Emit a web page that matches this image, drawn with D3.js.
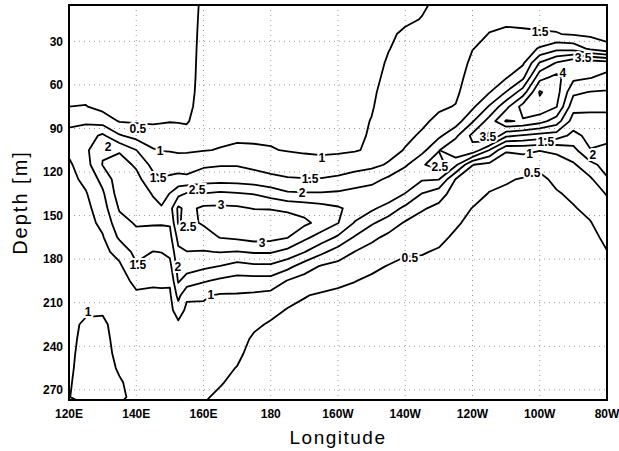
<!DOCTYPE html>
<html>
<head>
<meta charset="utf-8">
<script src="https://cdn.jsdelivr.net/npm/d3@7"></script>
<style>
  body { margin: 0; background: #fff; }
  text { font-family: "Liberation Sans", Arial, sans-serif; }
</style>
</head>
<body>
<svg id="chart" width="619" height="451"></svg>
<script>
// grid longitudes (deg E) and depths (m) of the field
const lons = [120, 125, 130, 135, 140, 145, 147.5, 150, 152.5, 155, 160, 165, 170, 175, 180,
  185, 190, 195, 200, 205, 210, 215, 220, 225, 230, 235, 240, 245, 250, 255, 260, 265, 270, 275, 280];
const depths = [5, 15, 25, 35, 45, 55, 65, 75, 85, 95, 105, 115, 125, 135, 145, 155, 165, 175,
  185, 195, 205, 215, 225, 235, 245, 255, 265, 275];

const levels = [0.5, 1, 1.5, 2, 2.5, 3, 3.5, 4, 4.5];

const xTicks = [120, 140, 160, 180, 200, 220, 240, 260, 280];
const xTickLabels = ["120E", "140E", "160E", "180", "160W", "140W", "120W", "100W", "80W"];
const yTicks = [30, 60, 90, 120, 150, 180, 210, 240, 270];

// one depth profile per longitude, top to bottom
const profiles = [
  [0.3,0.3,0.3,0.3,0.3,0.3,0.32,0.5,0.84,1.2,1.1,0.92,0.85,0.85,0.85,0.85,0.85,0.85,0.85,0.85,0.85,0.86,0.87,0.88,0.9,0.92,0.95,0.98],
  [0.3,0.3,0.3,0.3,0.3,0.3,0.35,0.52,0.93,1.25,1.4,1.3,1.12,0.96,0.86,0.82,0.8,0.8,0.8,0.8,0.8,0.92,1.08,1.13,1.17,1.2,1.23,1.25],
  [0.3,0.3,0.3,0.3,0.3,0.3,0.33,0.35,0.78,1.6,1.95,2.02,1.65,1.42,1.28,1.12,0.96,0.88,0.86,0.86,0.86,0.95,1.08,1.13,1.16,1.18,1.2,1.2],
  [0.3,0.3,0.3,0.3,0.3,0.3,0.3,0.35,0.47,1.05,1.95,2.2,2.3,2.25,2.05,1.82,1.58,1.15,0.92,0.82,0.82,0.82,0.82,0.84,0.88,0.95,1.04,1.1],
  [0.3,0.3,0.3,0.3,0.3,0.3,0.3,0.35,0.45,0.82,1.51,1.93,2.15,2.25,2.2,2.05,1.86,1.66,1.43,1.11,0.93,0.86,0.86,0.86,0.86,0.86,0.86,0.86],
  [0.3,0.3,0.3,0.3,0.3,0.3,0.3,0.33,0.44,0.72,1.04,1.35,1.66,1.97,2.12,2.05,1.78,1.49,1.28,1.08,0.9,0.86,0.86,0.86,0.86,0.86,0.86,0.86],
  [0.3,0.3,0.3,0.3,0.3,0.3,0.3,0.33,0.46,0.73,0.98,1.28,1.53,1.78,2.05,2.04,1.8,1.51,1.3,1.08,0.92,0.86,0.86,0.86,0.86,0.86,0.86,0.86],
  [0.3,0.3,0.3,0.3,0.3,0.3,0.3,0.33,0.48,0.75,0.97,1.26,1.6,2.02,2.3,2.05,1.85,1.62,1.35,1.07,0.92,0.86,0.86,0.86,0.86,0.86,0.86,0.86],
  [0.3,0.3,0.3,0.3,0.3,0.3,0.3,0.33,0.47,0.72,0.93,1.27,1.66,2.35,3.1,3.05,2.65,2.4,2.22,2.05,1.65,1.25,0.9,0.86,0.86,0.86,0.86,0.86],
  [0.3,0.3,0.3,0.3,0.3,0.3,0.3,0.33,0.44,0.72,0.93,1.3,1.6,2.55,2.85,2.88,2.75,2.49,2.2,1.8,1.08,0.9,0.86,0.86,0.86,0.86,0.86,0.86],
  [0.58,0.6,0.62,0.64,0.66,0.68,0.72,0.78,0.85,0.92,0.98,1.42,1.78,2.52,3.1,3.05,2.8,2.47,2.1,1.55,1.05,0.92,0.85,0.78,0.72,0.66,0.6,0.53],
  [0.62,0.64,0.66,0.68,0.7,0.72,0.76,0.8,0.86,0.92,1.02,1.47,1.8,2.6,3.1,3.3,3.02,2.52,1.98,1.4,0.95,0.85,0.77,0.7,0.63,0.57,0.52,0.45],
  [0.65,0.67,0.69,0.71,0.73,0.75,0.78,0.82,0.88,0.94,1.06,1.47,1.78,2.55,3.08,3.35,3.08,2.48,1.8,1.32,0.95,0.83,0.72,0.63,0.56,0.49,0.43,0.38],
  [0.67,0.69,0.71,0.73,0.75,0.77,0.8,0.84,0.9,0.95,1.04,1.38,1.72,2.48,2.98,3.32,3.18,2.55,1.9,1.3,0.92,0.72,0.56,0.45,0.4,0.36,0.33,0.3],
  [0.7,0.72,0.74,0.76,0.78,0.8,0.82,0.86,0.9,0.95,1.02,1.3,1.62,2.3,2.97,3.33,3.15,2.55,1.9,1.3,0.85,0.6,0.46,0.38,0.33,0.3,0.28,0.26],
  [0.72,0.74,0.76,0.78,0.8,0.82,0.84,0.87,0.91,0.95,0.98,1.22,1.55,2.08,2.9,3.25,3.02,2.35,1.65,0.97,0.63,0.48,0.4,0.35,0.31,0.28,0.26,0.25],
  [0.74,0.76,0.78,0.8,0.82,0.84,0.86,0.89,0.92,0.94,0.95,1.17,1.53,2.05,2.82,3.1,2.62,2.02,1.25,0.78,0.52,0.42,0.36,0.32,0.29,0.27,0.25,0.24],
  [0.76,0.78,0.8,0.82,0.84,0.86,0.88,0.9,0.92,0.93,0.94,1.12,1.53,2.05,2.7,2.85,2.28,1.62,0.95,0.68,0.45,0.37,0.32,0.28,0.26,0.24,0.23,0.22],
  [0.78,0.8,0.82,0.84,0.86,0.88,0.9,0.91,0.92,0.93,0.95,1.15,1.62,2.08,2.56,2.52,1.92,1.27,0.85,0.58,0.42,0.35,0.3,0.27,0.25,0.23,0.22,0.21],
  [0.8,0.82,0.84,0.86,0.88,0.9,0.91,0.92,0.93,0.94,0.97,1.3,1.72,2.18,2.35,1.96,1.45,0.99,0.72,0.51,0.38,0.31,0.27,0.24,0.22,0.21,0.2,0.19],
  [0.82,0.84,0.86,0.88,0.9,0.93,0.96,0.98,1.01,1.03,1.06,1.38,1.82,2.28,2.1,1.57,1.12,0.8,0.58,0.43,0.34,0.28,0.25,0.23,0.21,0.2,0.19,0.18],
  [0.9,0.93,0.96,0.99,1.03,1.06,1.09,1.12,1.16,1.22,1.33,1.55,2.1,2.35,1.78,1.27,0.88,0.65,0.48,0.37,0.3,0.26,0.23,0.21,0.2,0.19,0.18,0.17],
  [0.94,0.96,1.04,1.08,1.12,1.16,1.2,1.25,1.32,1.4,1.53,1.92,2.42,1.98,1.38,0.95,0.7,0.54,0.42,0.33,0.28,0.24,0.22,0.2,0.19,0.18,0.17,0.16],
  [0.97,1.01,1.08,1.13,1.18,1.23,1.28,1.34,1.42,1.56,1.85,2.45,2.05,1.48,1.05,0.8,0.63,0.52,0.43,0.35,0.29,0.25,0.22,0.2,0.19,0.18,0.17,0.16],
  [1.05,1.1,1.15,1.2,1.25,1.3,1.36,1.44,1.6,1.9,2.48,2.72,2.02,1.2,0.88,0.7,0.57,0.47,0.39,0.32,0.27,0.24,0.21,0.19,0.18,0.17,0.16,0.15],
  [1.1,1.15,1.2,1.25,1.3,1.36,1.42,1.52,1.75,2.4,2.92,2.1,0.98,0.78,0.65,0.54,0.45,0.38,0.32,0.28,0.25,0.22,0.2,0.18,0.17,0.16,0.15,0.14],
  [1.2,1.3,1.4,1.49,1.58,1.66,1.76,1.9,2.45,3.12,2.85,1.01,0.8,0.65,0.49,0.42,0.36,0.31,0.27,0.24,0.22,0.2,0.18,0.17,0.16,0.15,0.14,0.13],
  [1.3,1.42,1.51,1.6,1.7,1.82,1.97,2.55,3.2,3.6,1.98,0.86,0.62,0.48,0.4,0.34,0.3,0.27,0.24,0.22,0.2,0.19,0.17,0.16,0.15,0.14,0.13,0.12],
  [1.38,1.46,1.54,1.66,1.8,1.97,2.52,3.35,4.05,2.6,1.05,0.7,0.54,0.43,0.36,0.31,0.27,0.24,0.22,0.2,0.19,0.18,0.16,0.15,0.14,0.13,0.12,0.11],
  [1.4,1.44,1.54,1.75,1.93,2.4,3.25,4.2,3.95,2.45,1.1,0.75,0.47,0.36,0.3,0.26,0.23,0.21,0.19,0.18,0.17,0.16,0.15,0.14,0.13,0.12,0.11,0.1],
  [1.35,1.42,1.53,2.05,3.05,3.85,4.55,4.35,3.7,2.3,1.02,0.62,0.4,0.32,0.27,0.24,0.21,0.19,0.18,0.17,0.16,0.15,0.14,0.13,0.12,0.11,0.1,0.1],
  [1.3,1.38,1.52,2.35,3.55,4.15,4.2,4.02,3.25,2.25,1.08,0.8,0.6,0.46,0.36,0.3,0.26,0.23,0.21,0.19,0.18,0.17,0.16,0.15,0.14,0.13,0.12,0.11],
  [1.25,1.33,1.45,2.3,3.95,3.62,3.1,2.67,2.28,1.85,1.35,0.93,0.72,0.58,0.47,0.38,0.32,0.28,0.25,0.22,0.2,0.18,0.17,0.16,0.15,0.14,0.13,0.12],
  [1.2,1.28,1.4,1.9,3.85,3.52,2.98,2.6,2.35,2.15,1.98,1.35,0.92,0.75,0.6,0.48,0.4,0.34,0.3,0.26,0.23,0.21,0.19,0.18,0.17,0.16,0.15,0.14],
  [1.15,1.25,1.38,1.6,3.75,3.35,2.95,2.6,2.35,2.12,1.9,1.7,1.45,1.03,0.85,0.7,0.58,0.49,0.42,0.36,0.32,0.28,0.25,0.22,0.2,0.18,0.17,0.16]
];

// contour labels: text, longitude, depth
const labelText = ["0.5","1","2","1.5","2.5","2.5","3","3","2","1.5","1","1.5","2","1","1",
  "0.5","0.5","1.5","1.5","1","2","3.5","2.5","4","3.5"];
const labelLon = [140.5,147.1,131.6,146.5,158.1,155.4,165.2,177.4,189.3,191.7,195.2,140.5,152.4,162.2,125.7,
  221.4,257.7,260.1,261.8,257.0,275.8,244.6,230.3,266.9,272.9];
const labelDepth = [90.4,105.6,102.8,124.1,132.4,157.9,142.7,168.9,134.5,124.8,110.4,184.1,185.4,204.7,216.4,
  179.2,120.7,23.6,99.0,107.5,108.3,95.9,116.6,51.8,41.5];

const svg = d3.select("#chart");
const pL = 69, pR = 607, pT = 5, pB = 400;

const x = d3.scaleLinear().domain([120, 280]).range([pL, pR]);
const y = d3.scaleLinear().domain([5, 277]).range([pT, pB]);

const nx = lons.length, ny = depths.length;
const values = new Array(nx * ny);
for (let r = 0; r < ny; r++) {
  for (let c = 0; c < nx; c++) values[r * nx + c] = profiles[c][r];
}

// grid index -> lon / depth (piecewise linear, extrapolates past edges)
const lonAt = d3.scaleLinear().domain(d3.range(nx)).range(lons);
const depthAt = d3.scaleLinear().domain(d3.range(ny)).range(depths);

svg.append("defs").append("clipPath").attr("id", "plot")
  .append("rect").attr("x", pL).attr("y", pT)
  .attr("width", pR - pL).attr("height", pB - pT);

// dotted grid
const grid = svg.append("g").attr("stroke", "#9a9a9a").attr("stroke-width", 1)
  .attr("stroke-dasharray", "1,4");
grid.selectAll("line.gx").data(xTicks.slice(1, -1)).join("line")
  .attr("x1", d => x(d)).attr("x2", d => x(d)).attr("y1", pT).attr("y2", pB);
grid.selectAll("line.gy").data(yTicks).join("line")
  .attr("x1", pL).attr("x2", pR).attr("y1", d => y(d)).attr("y2", d => y(d));

const contours = d3.contours().size([nx, ny]).thresholds(levels)(values);

const path = d3.geoPath(d3.geoTransform({
  point(px, py) {
    this.stream.point(x(lonAt(px - 0.5)), y(depthAt(py - 0.5)));
  }
}));

svg.append("g").attr("clip-path", "url(#plot)")
  .selectAll("path").data(contours).join("path")
  .attr("d", path)
  .attr("fill", "none")
  .attr("stroke", "#000")
  .attr("stroke-width", 1.8)
  .attr("stroke-linejoin", "round");

// contour labels with white halo
svg.append("g").selectAll("text").data(labelText).join("text")
  .attr("x", (d, i) => x(labelLon[i]))
  .attr("y", (d, i) => y(labelDepth[i]))
  .attr("dy", "0.36em")
  .attr("text-anchor", "middle")
  .attr("font-size", 12)
  .attr("font-weight", "bold")
  .attr("stroke", "#fff").attr("stroke-width", 4).attr("paint-order", "stroke")
  .attr("fill", "#000")
  .text(d => d);

// frame
svg.append("rect").attr("x", pL).attr("y", pT)
  .attr("width", pR - pL).attr("height", pB - pT)
  .attr("fill", "none").attr("stroke", "#000").attr("stroke-width", 2);

// tick labels
svg.append("g").selectAll("text").data(xTicks).join("text")
  .attr("x", d => x(d)).attr("y", pB + 18)
  .attr("text-anchor", "middle").attr("font-size", 12).attr("font-weight", "bold")
  .text((d, i) => xTickLabels[i]);

svg.append("g").selectAll("text").data(yTicks).join("text")
  .attr("x", pL - 6).attr("y", d => y(d)).attr("dy", "0.36em")
  .attr("text-anchor", "end").attr("font-size", 12).attr("font-weight", "bold")
  .text(d => d);

// axis titles
svg.append("text").attr("x", (pL + pR) / 2).attr("y", 444)
  .attr("text-anchor", "middle").attr("font-size", 19).attr("letter-spacing", 1.5)
  .text("Longitude");

svg.append("text").attr("transform", `translate(27,${(pT + pB) / 2}) rotate(-90)`)
  .attr("text-anchor", "middle").attr("font-size", 20).attr("letter-spacing", 2)
  .text("Depth [m]");
</script>
</body>
</html>
